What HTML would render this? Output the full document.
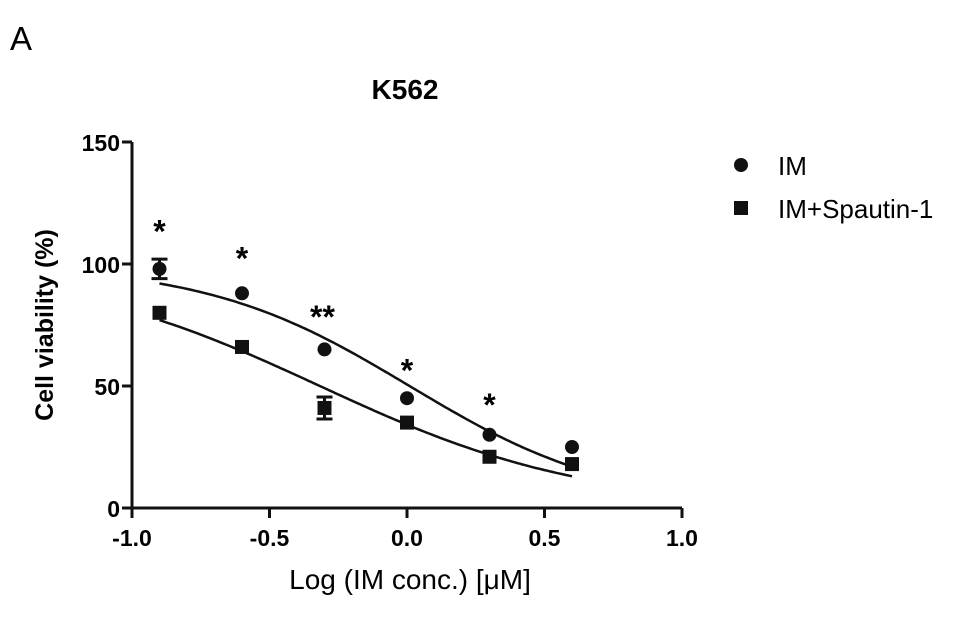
<!DOCTYPE html>
<html><head><meta charset="utf-8"><style>
body{margin:0;background:#fff;}
svg text{font-family:"Liberation Sans",Arial,sans-serif;}
</style></head><body>
<svg id="chart" width="969" height="612" xmlns="http://www.w3.org/2000/svg">
<text x="10" y="50" font-size="33">A</text>
<text x="405" y="99" font-size="28" font-weight="bold" text-anchor="middle">K562</text>
<g id="axes"></g>
<g id="marks"></g>
<text x="410" y="589" font-size="28" text-anchor="middle">Log (IM conc.) [μM]</text>
<text transform="translate(53,325) rotate(-90)" font-size="25" font-weight="bold" text-anchor="middle">Cell viability (%)</text>
<g>
<circle cx="741" cy="165" r="7" fill="#111"/>
<text x="778" y="175" font-size="26">IM</text>
<rect x="734" y="201" width="14" height="14" fill="#111"/>
<text x="778" y="218" font-size="26">IM+Spautin-1</text>
</g>
</svg>
<script>
const xs = [-0.9, -0.6, -0.3, 0, 0.3, 0.6];
const imValues = [98, 88, 65, 45, 30, 25];
const spValues = [80, 66, 41, 35, 21, 18];
const imErr = [4, 1, 1, 1, 1, 1];
const spErr = [1, 1, 4.5, 1, 1, 1];
const imFit = [100, 0, 0.009, 1.167];
const spFit = [100, 0, -0.317, 0.9];
const stars = ["*", "*", "**", "*", "*", ""];
const starValues = [117, 106, 82, 60, 46, 0];
const xTicks = [-1.0, -0.5, 0.0, 0.5, 1.0];
const xTickLabels = ["-1.0", "-0.5", "0.0", "0.5", "1.0"];
const yTicks = [0, 50, 100, 150];
const yTickLabels = ["0", "50", "100", "150"];

const NS="http://www.w3.org/2000/svg";
const X = v => 132 + (v + 1) * 275;
const Y = v => 508 - v * 2.44;
function mk(tag, attrs, parent){const e=document.createElementNS(NS,tag);for(const k in attrs)e.setAttribute(k,attrs[k]);parent.appendChild(e);return e;}
const axes=document.getElementById('axes'), marks=document.getElementById('marks');
let a=mk('line',{x1:X(-1),y1:Y(0),x2:X(1),y2:Y(0),stroke:'#111','stroke-width':3},axes);

a=mk('line',{x1:X(-1),y1:Y(0)+1,x2:X(-1),y2:Y(150),stroke:'#111','stroke-width':3},axes);

xTicks.forEach((t,i)=>{
  const l=mk('line',{x1:X(t),y1:Y(0),x2:X(t),y2:Y(0)+10,stroke:'#111','stroke-width':3},axes);
  
  const tx=mk('text',{x:X(t),y:Y(0)+38,'font-size':23,'font-weight':'bold','text-anchor':'middle'},axes);
  tx.textContent=xTickLabels[i];
  
});
yTicks.forEach((t,i)=>{
  const l=mk('line',{x1:X(-1)-10,y1:Y(t),x2:X(-1),y2:Y(t),stroke:'#111','stroke-width':3},axes);
  
  const tx=mk('text',{x:X(-1)-12,y:Y(t)+9,'font-size':23,'font-weight':'bold','text-anchor':'end'},axes);
  tx.textContent=yTickLabels[i];
  
});
function curve(p,name){
  let d='';
  for(let x=-0.9;x<=0.6001;x+=0.01){const y=p[1]+(p[0]-p[1])/(1+Math.pow(10,(x-p[2])*p[3]));d+=(d?'L':'M')+X(x).toFixed(1)+','+Y(y).toFixed(1);}
  const e=mk('path',{d:d,fill:'none',stroke:'#111','stroke-width':2.5},marks);
  
}
curve(imFit,'fit-curve-im');curve(spFit,'fit-curve-spautin');
function errbar(x,v,err,name){
  if(err<2)return;
  const g=mk('path',{d:`M${X(x)-8},${Y(v+err)}H${X(x)+8}M${X(x)},${Y(v+err)}V${Y(v-err)}M${X(x)-8},${Y(v-err)}H${X(x)+8}`,stroke:'#111','stroke-width':3,fill:'none'},marks);
  
}
xs.forEach((x,i)=>{
  errbar(x,imValues[i],imErr[i],'error-bar-im');
  errbar(x,spValues[i],spErr[i],'error-bar-spautin');
  const c=mk('circle',{cx:X(x),cy:Y(imValues[i]),r:7,fill:'#111'},marks);
  
  const r=mk('rect',{x:X(x)-7,y:Y(spValues[i])-7,width:14,height:14,fill:'#111'},marks);
  
  if(stars[i]){
    const s=mk('text',{x:X(x)+(stars[i].length>1?-2:0),y:Y(starValues[i])+20,'font-size':32,'font-weight':'bold','text-anchor':'middle'},marks);
    s.textContent=stars[i];
    
  }
});
</script>
</body></html>
